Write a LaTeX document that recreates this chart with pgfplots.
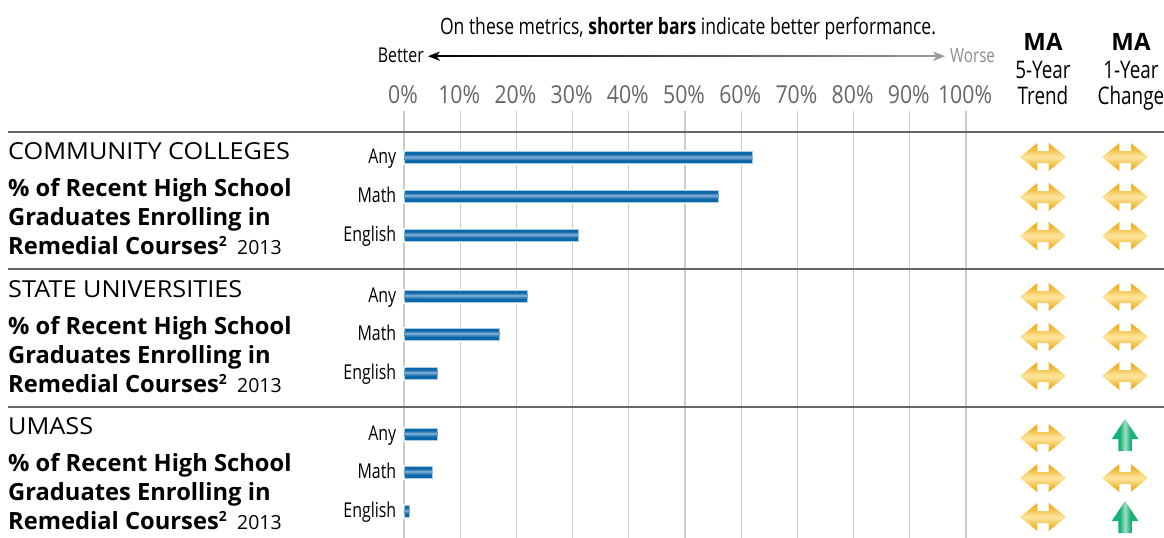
\documentclass[border=0pt]{standalone}
\usepackage{fontspec}
\setmainfont{Open Sans}
\newfontfamily\cond[FakeStretch=0.78]{Open Sans}
\newfontfamily\tickf[FakeStretch=0.86]{Open Sans}
\newfontfamily\wide[FakeStretch=1.08]{Open Sans}
\usepackage{pgfplots}
\usepackage{pgfplotstable}
\pgfplotsset{compat=1.18}

\definecolor{gridgray}{HTML}{CCCCCC}
\definecolor{ticktext}{HTML}{666666}
\definecolor{rulegray}{HTML}{666666}
\definecolor{bardark}{HTML}{0A67A8}
\definecolor{barmid}{HTML}{3F86BC}
\definecolor{barlight}{HTML}{74A8D0}
\definecolor{baredge}{HTML}{A9CDE6}

\definecolor{golddark}{HTML}{EFB52F}
\definecolor{goldlight}{HTML}{FDE296}
\pgfdeclareverticalshading{goldarrow}{100bp}{
  color(0bp)=(golddark); color(33bp)=(golddark); color(48bp)=(goldlight);
  color(52bp)=(goldlight); color(67bp)=(golddark); color(100bp)=(golddark)}
\definecolor{greendark}{HTML}{14B27A}
\definecolor{greenlight}{HTML}{A5DDC0}
\pgfdeclarehorizontalshading{greenarrow}{100bp}{
  color(0bp)=(greendark); color(40bp)=(greendark); color(50bp)=(greenlight);
  color(60bp)=(greendark); color(100bp)=(greendark)}

\pgfdeclareplotmark{flat}{%
  \pgfpathmoveto{\pgfqpoint{-23bp}{0bp}}%
  \pgfpathlineto{\pgfqpoint{-5.7bp}{14bp}}%
  \pgfpathlineto{\pgfqpoint{-5.7bp}{6bp}}%
  \pgfpathlineto{\pgfqpoint{5.7bp}{6bp}}%
  \pgfpathlineto{\pgfqpoint{5.7bp}{14bp}}%
  \pgfpathlineto{\pgfqpoint{23bp}{0bp}}%
  \pgfpathlineto{\pgfqpoint{5.7bp}{-14bp}}%
  \pgfpathlineto{\pgfqpoint{5.7bp}{-6bp}}%
  \pgfpathlineto{\pgfqpoint{-5.7bp}{-6bp}}%
  \pgfpathlineto{\pgfqpoint{-5.7bp}{-14bp}}%
  \pgfpathclose
  \pgfshadepath{goldarrow}{0}%
  \pgfusepath{discard}}
\pgfdeclareplotmark{up}{%
  \pgfpathmoveto{\pgfqpoint{0bp}{16bp}}%
  \pgfpathlineto{\pgfqpoint{13.3bp}{-4bp}}%
  \pgfpathlineto{\pgfqpoint{6.7bp}{-4bp}}%
  \pgfpathlineto{\pgfqpoint{6.7bp}{-16bp}}%
  \pgfpathlineto{\pgfqpoint{-6.7bp}{-16bp}}%
  \pgfpathlineto{\pgfqpoint{-6.7bp}{-4bp}}%
  \pgfpathlineto{\pgfqpoint{-13.3bp}{-4bp}}%
  \pgfpathclose
  \pgfshadepath{greenarrow}{0}%
  \pgfusepath{discard}}

% rates read from the bar ends; row is the position in pixels
\pgfplotstableread{
rate row
62 157.5
56 196
31 235
22 296
17 334
6 373
6 434
5 472
1 511
}\rates

\newcommand{\grouplabel}[2]{%
  \node[anchor=base west,inner sep=0pt,font=\wide\fontsize{23.5}{23.5}\selectfont] at (8,#2+1) {#1};
  \node[anchor=base west,inner sep=0pt,font=\fontsize{23.8}{23.8}\selectfont\bfseries] at (8,#2+38) {\% of Recent High School};
  \node[anchor=base west,inner sep=0pt,font=\fontsize{23.8}{23.8}\selectfont\bfseries] at (8,#2+67) {Graduates Enrolling in};
  \node[anchor=base west,inner sep=0pt,font=\fontsize{23.8}{23.8}\selectfont\bfseries] at (8,#2+96) {Remedial Courses\raisebox{8bp}{\fontsize{14}{14}\selectfont 2}};
  \node[anchor=base west,inner sep=0pt,font=\fontsize{19.5}{19.5}\selectfont] at (237,#2+96) {2013};
}

\begin{document}
\begin{tikzpicture}
\path[use as bounding box] (0,0) rectangle (1164bp,-538bp);

\begin{axis}[
    at={(404bp,-538bp)},
    anchor=south west,
    scale only axis,
    width=562bp,
    height=427bp,
    xmin=0, xmax=100,
    ymin=111, ymax=538,
    y dir=reverse,
    clip=false,
    xbar,
    bar shift=0pt,
    axis line style={draw=none},
    major tick style={draw=none},
    xtick={0,10,...,100},
    xticklabel pos=top,
    xticklabel={\pgfmathprintnumber{\tick}\%},
    xticklabel style={font=\tickf\fontsize{24.8}{24.8}\selectfont,text=ticktext,yshift=4bp,xshift=-1bp},
    /pgf/number format/assume math mode=true,
    xmajorgrids=true,
    grid style={gridgray,line width=1.2bp},
    ytick={157.5,196,235,296,334,373,434,472,511},
    yticklabels={Any,Math,English,Any,Math,English,Any,Math,English},
    yticklabel style={font=\cond\fontsize{20.5}{20.5}\selectfont,text=black,anchor=base east,yshift=-6bp},
]
% white halo breaks the grid lines behind each bar
\addplot[draw=white,fill=white,line width=3bp,bar width=12bp,forget plot] table[x=rate,y=row]{\rates};
\addplot[draw=baredge,fill=bardark,line width=0.6bp,bar width=12bp,forget plot] table[x=rate,y=row]{\rates};
% light stripe down the middle of the bars
\addplot[draw=none,fill=barmid,bar width=5bp,forget plot] table[x=rate,y=row]{\rates};
\addplot[draw=none,fill=barlight,bar width=2.4bp,forget plot] table[x=rate,y=row]{\rates};
% trend and change icons sit right of the 100% line
\addplot[only marks,mark=flat,forget plot] coordinates {
    (113.7,157)(113.7,197)(113.7,236)
    (113.7,297)(113.7,337)(113.7,376)
    (113.7,438)(113.7,478)(113.7,517)
    (128.3,157)(128.3,197)(128.3,236)
    (128.3,297)(128.3,337)(128.3,376)
    (128.3,478)};
\addplot[only marks,mark=up,forget plot] coordinates {(128.3,435)(128.3,517)};
\end{axis}

\begin{scope}[x=1bp,y=-1bp]
\foreach \y in {132,269,407}
  \draw[rulegray,line width=1.2bp] (8,\y) -- (1164,\y);

\grouplabel{COMMUNITY COLLEGES}{158}
\grouplabel{STATE UNIVERSITIES}{296}
\grouplabel{UMASS}{433}

\node[anchor=base,inner sep=0pt,font=\cond\fontsize{22.6}{22.6}\selectfont] at (688,34)
  {On these metrics, \textbf{shorter bars} indicate better performance.};
\node[anchor=base east,inner sep=0pt,font=\cond\fontsize{20.5}{20.5}\selectfont] at (424,62) {Better};
\node[anchor=base west,inner sep=0pt,font=\cond\fontsize{19.5}{19.5}\selectfont,text=black!45] at (950,62) {Worse};
\shade[left color=black,right color=black!40] (432,55.6) rectangle (938,56.8);
\fill[black] (428,56.2) -- (440,51.5) -- (436.5,56.2) -- (440,61) -- cycle;
\fill[black!40] (945,56.2) -- (933,51.5) -- (936.5,56.2) -- (933,61) -- cycle;

\node[anchor=base,inner sep=0pt,font=\fontsize{24}{24}\selectfont\bfseries] at (1043,50) {MA};
\node[anchor=base,inner sep=0pt,font=\fontsize{24}{24}\selectfont\bfseries] at (1131,50) {MA};
\node[anchor=base,inner sep=0pt,font=\cond\fontsize{24.3}{24.3}\selectfont] at (1043,78) {5-Year};
\node[anchor=base,inner sep=0pt,font=\cond\fontsize{24.3}{24.3}\selectfont] at (1043,104) {Trend};
\node[anchor=base,inner sep=0pt,font=\cond\fontsize{24.3}{24.3}\selectfont] at (1131,78) {1-Year};
\node[anchor=base,inner sep=0pt,font=\cond\fontsize{24.3}{24.3}\selectfont] at (1131,104) {Change};
\end{scope}
\end{tikzpicture}
\end{document}
